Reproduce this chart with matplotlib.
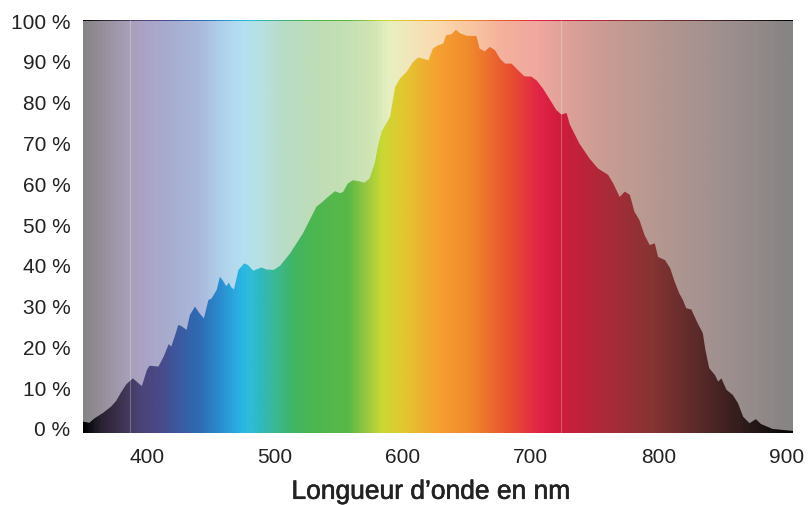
import numpy as np
import matplotlib
matplotlib.use('Agg')
import matplotlib.pyplot as plt
import matplotlib.patheffects as pe
from matplotlib.colors import LinearSegmentedColormap
from matplotlib.patches import Polygon

# spectral power distribution (nm, % of max)
wavelength = [350, 355, 359, 366, 372, 376, 380, 384, 389, 393, 396, 400, 402, 409, 413,
              417, 419, 422, 424.5, 427, 431, 433.5, 437.5, 441, 444.5, 448, 450.5, 454.5,
              457, 459.5, 462, 464, 466, 468, 471.5, 476, 479, 483, 489.5, 493.5, 499, 504,
              512, 522, 532.5, 536.5, 541.5, 547, 551, 553.5, 557, 561, 565, 570, 574, 578,
              581, 583.5, 590, 594, 598, 603, 608, 612, 616, 620, 623.5, 627.5, 631.5, 634,
              638, 641.5, 644.5, 650, 657.5, 660, 664, 668, 672, 676, 680, 685, 690, 695,
              700.5, 704.5, 709.5, 714.5, 720, 724, 728, 730.5, 738, 746, 752.5, 760.5,
              764.5, 769.5, 773.5, 777.5, 781, 785, 789, 793, 797, 799.5, 805, 809, 812.5,
              816, 819, 821.5, 825.5, 830.5, 834.5, 836.5, 839.5, 844, 846.5, 849, 853, 858,
              862, 866, 871, 876, 880, 889, 905]
intensity = [1.8, 1.5, 2.6, 4.0, 5.5, 6.9, 9.1, 11.0, 12.4, 11.3, 10.5, 14.5, 15.5, 15.3, 17.7,
             20.8, 20.2, 23.0, 25.5, 25.2, 24.3, 27.9, 30.0, 28.4, 27.1, 31.6, 32.0, 34.1,
             37.3, 36.3, 35.0, 35.9, 34.7, 34.2, 39.0, 40.6, 40.2, 38.8, 39.6, 39.1, 39.0, 40.0,
             43.1, 48.0, 54.5, 55.5, 56.9, 58.3, 57.8, 58.2, 60.2, 61.0, 60.8, 60.4, 61.4, 65.1,
             70.0, 73.0, 76.5, 83.9, 86.0, 87.6, 90.0, 91.1, 90.8, 90.4, 93.3, 94.1, 94.5, 96.6,
             96.8, 97.9, 97.1, 96.4, 96.4, 93.3, 92.6, 93.7, 92.9, 90.8, 89.6, 89.6, 88.0, 86.5,
             86.4, 85.5, 83.5, 81.0, 78.2, 77.1, 77.5, 74.7, 70.0, 66.3, 63.9, 62.3,
             60.2, 56.9, 58.2, 57.4, 53.3, 51.2, 47.5, 45.1, 45.5, 42.2, 41.4, 39.4, 36.1,
             33.3, 31.6, 29.6, 29.3, 25.9, 23.5, 19.4, 14.9, 13.2, 11.6, 12.4, 9.6, 8.3,
             6.3, 3.0, 1.4, 2.4, 1.2, 0.0, -0.5]

x_ticks = [400, 500, 600, 700, 800, 900]
y_ticks = [0, 10, 20, 30, 40, 50, 60, 70, 80, 90, 100]
y_ticklabels = ['%d %%' % v for v in y_ticks]

# spectrum colours (saturated, under the curve)
sat_nm = [350, 355, 363, 379, 394, 410, 426, 441, 457, 473, 480, 488, 496, 502, 512, 530,
          557, 572, 583, 600, 628, 652, 684, 707, 723, 754, 793, 832, 871, 905]
sat_col = ['#000000', '#101018', '#2a2232', '#3e3450', '#4a4476', '#4a4a8a', '#3a5ca4',
           '#2f6cb4', '#2a8ed0', '#2ab4e6', '#30bcd8', '#30b8c0', '#38b8a0', '#3cb890',
           '#40b468', '#4cb650', '#5ab848', '#9cc840', '#c8d834', '#e2c830', '#f5a030',
           '#f08a2c', '#e85030', '#e02448', '#d01c3c', '#b0283a', '#8a3434', '#5a2a2a',
           '#2a1a1a', '#050505']
# washed-out colours (above the curve)
pale_nm = [350, 362, 385, 400, 420, 440, 460, 475, 490, 505, 530, 555, 575, 590, 610, 630,
           650, 680, 705, 730, 760, 800, 850, 905]
pale_col = ['#858585', '#958e98', '#a8a0b8', '#aaa4c8', '#a8aed0', '#aab8dc', '#b0d4ec',
            '#b4e0f0', '#b8e0e0', '#b8dcc8', '#bedcb8', '#c4e0b4', '#d0e4b4', '#e8f0c0',
            '#f4e4b8', '#fad8b0', '#f8c8a0', '#f4b09c', '#f0a8a0', '#dca098', '#c89c94',
            '#b49890', '#a09090', '#868484']

x0, x1 = 350, 905
y0, y1 = -1.0, 100.3


def make_cmap(nm, cols):
    pos = [(v - x0) / (x1 - x0) for v in nm]
    return LinearSegmentedColormap.from_list('spec', list(zip(pos, cols)))


plt.rcParams['font.family'] = ['Liberation Sans', 'DejaVu Sans']

fig = plt.figure(figsize=(8.12, 5.05), dpi=100)
ax = fig.add_axes([83 / 812, 72 / 505, 710 / 812, 413 / 505])

grad = np.linspace(0, 1, 1200)[np.newaxis, :]
ax.imshow(grad, cmap=make_cmap(pale_nm, pale_col), extent=[x0, x1, y0, 100.0],
          aspect='auto', origin='lower', zorder=0, interpolation='bilinear')
# thin spectral edge along the top
ax.imshow(grad, cmap=make_cmap(sat_nm, sat_col), extent=[x0, x1, 100.0, y1],
          aspect='auto', origin='lower', zorder=0, interpolation='bilinear')

verts = np.column_stack([wavelength, intensity])
verts = np.vstack([verts, [[wavelength[-1], y0], [wavelength[0], y0]]])
poly = Polygon(verts, closed=True, facecolor='none', edgecolor='none')
ax.add_patch(poly)
im = ax.imshow(grad, cmap=make_cmap(sat_nm, sat_col), extent=[x0, x1, y0, y1],
               aspect='auto', origin='lower', zorder=1, interpolation='bilinear')
im.set_clip_path(poly)

# faint vertical seams seen in the original artwork
for xv in [386.7, 724]:
    ax.axvline(xv, color='white', alpha=0.25, lw=0.8, zorder=2)

ax.set_xlim(x0, x1)
ax.set_ylim(y0, y1)
ax.set_xticks(x_ticks)
ax.set_yticks(y_ticks)
ax.set_yticklabels(y_ticklabels)
ax.tick_params(axis='both', length=0, labelsize=15, colors='#222222')
ax.tick_params(axis='x', pad=11)
ax.tick_params(axis='y', pad=9)
for s in ax.spines.values():
    s.set_visible(False)
xl = ax.set_xlabel('Longueur d’onde en nm', fontsize=19, color='#222222', labelpad=9)
xl.set_x(0.49)
xl.set_path_effects([pe.withStroke(linewidth=0.45, foreground='#222222')])

fig.savefig('out.png', dpi=100)
